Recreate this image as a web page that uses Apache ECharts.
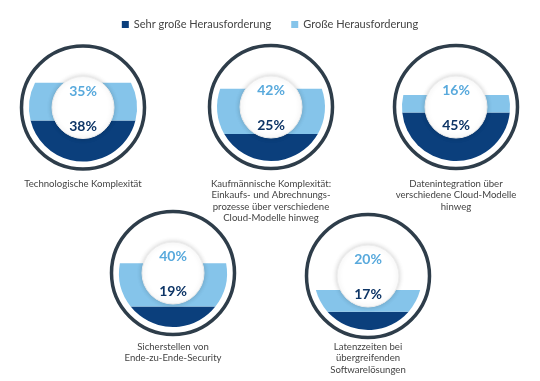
<!DOCTYPE html>
<html><head><meta charset="utf-8">
<script src="https://cdn.jsdelivr.net/npm/echarts@6/dist/echarts.min.js"></script>
<style>html,body{margin:0;padding:0;background:#fff}#c{width:540px;height:381px}</style>
</head><body><div id="c"></div>
<script>
// ---- data ----
const categories = [
  'Technologische Komplexität',
  'Kaufmännische Komplexität:\nEinkaufs- und Abrechnungs-\nprozesse über verschiedene\nCloud-Modelle hinweg',
  'Datenintegration über\nverschiedene Cloud-Modelle\nhinweg',
  'Sicherstellen von\nEnde-zu-Ende-Security',
  'Latenzzeiten bei\nübergreifenden\nSoftwarelösungen'
];
const seriesNames = ['Sehr große Herausforderung', 'Große Herausforderung'];
const sehrGross = [38, 25, 45, 19, 17];
const gross = [35, 42, 16, 40, 20];

// ---- layout & style ----
const layout = [
  { cx: 83,  cy: 107.5, labelTop: 178 },
  { cx: 271, cy: 107,   labelTop: 178 },
  { cx: 456, cy: 107,   labelTop: 178 },
  { cx: 173, cy: 273,   labelTop: 341 },
  { cx: 368, cy: 276,   labelTop: 341 }
];
const FILL_R = 54, RING_GAP = 7.5, INNER_R = 31;
const DARK = '#0b3f7c', LIGHT = '#85c4ea', RING = '#2e3d4a';
const DARK_TXT = '#0e3566', LIGHT_TXT = '#58a9dc';
const FONT = 'Lato, "Open Sans", sans-serif';

function geom(api) {
  const p0 = api.coord([0, 0]), p100 = api.coord([0, 100]);
  return { cx: p0[0], cy: (p0[1] + p100[1]) / 2, r: (p0[1] - p100[1]) / 2 };
}
function halfW(g, y) { const d = y - g.cy; return Math.sqrt(Math.max(0, g.r * g.r - d * d)); }

const grids = [], xAxes = [], yAxes = [], series = [];
layout.forEach((L, i) => {
  grids.push({ left: L.cx - FILL_R, top: L.cy - FILL_R, width: 2 * FILL_R, height: 2 * FILL_R });
  xAxes.push({
    type: 'category', gridIndex: i, data: [categories[i]],
    axisLine: { show: false }, axisTick: { show: false }, splitLine: { show: false },
    axisLabel: { margin: L.labelTop - (L.cy + FILL_R), color: '#444', fontSize: 9.6, lineHeight: 11.5, fontFamily: FONT, interval: 0 }
  });
  yAxes.push({ type: 'value', gridIndex: i, min: 0, max: 100, show: false });

  // outer ring
  series.push({
    type: 'custom', xAxisIndex: i, yAxisIndex: i, silent: true, clip: false, z: 1,
    data: [[0, 0]],
    renderItem(params, api) {
      const g = geom(api);
      return { type: 'circle', shape: { cx: g.cx, cy: g.cy, r: g.r + RING_GAP },
        style: { fill: 'none', stroke: RING, lineWidth: 3.5 } };
    }
  });
  // dark fill (Sehr große Herausforderung)
  series.push({
    name: seriesNames[0], type: 'custom', xAxisIndex: i, yAxisIndex: i, silent: true, clip: false, z: 2,
    itemStyle: { color: DARK },
    data: [[0, sehrGross[i]]],
    renderItem(params, api) {
      const g = geom(api);
      const y1 = api.coord([0, api.value(1)])[1];
      const w = halfW(g, y1);
      const large = y1 < g.cy ? 1 : 0;
      const d = `M${g.cx - w} ${y1} L${g.cx + w} ${y1} A${g.r} ${g.r} 0 ${large} 1 ${g.cx - w} ${y1} Z`;
      return { type: 'path', shape: { pathData: d }, style: { fill: DARK } };
    }
  });
  // light fill band (Große Herausforderung)
  series.push({
    name: seriesNames[1], type: 'custom', xAxisIndex: i, yAxisIndex: i, silent: true, clip: false, z: 2,
    itemStyle: { color: LIGHT },
    data: [[0, sehrGross[i], gross[i]]],
    renderItem(params, api) {
      const g = geom(api);
      const y1 = api.coord([0, api.value(1)])[1];
      const y2 = api.coord([0, api.value(1) + api.value(2)])[1];
      const w1 = halfW(g, y1), w2 = halfW(g, y2);
      const d = `M${g.cx - w2} ${y2} L${g.cx + w2} ${y2} A${g.r} ${g.r} 0 0 1 ${g.cx + w1} ${y1} ` +
                `L${g.cx - w1} ${y1} A${g.r} ${g.r} 0 0 1 ${g.cx - w2} ${y2} Z`;
      return { type: 'path', shape: { pathData: d }, style: { fill: LIGHT } };
    }
  });
  // inner white disc with the values
  series.push({
    type: 'custom', xAxisIndex: i, yAxisIndex: i, silent: true, clip: false, z: 3,
    data: [[0, sehrGross[i], gross[i]]],
    renderItem(params, api) {
      const g = geom(api);
      return { type: 'group', children: [
        { type: 'circle', shape: { cx: g.cx, cy: g.cy, r: INNER_R },
          style: { fill: '#fff', stroke: '#ececec', lineWidth: 1, shadowBlur: 5, shadowColor: 'rgba(0,0,0,0.18)' } },
        { type: 'text', style: { text: api.value(2) + '%', x: g.cx, y: g.cy - 16.5, align: 'center', verticalAlign: 'middle',
          fill: LIGHT_TXT, fontSize: 14, fontWeight: 700, fontFamily: FONT } },
        { type: 'text', style: { text: api.value(1) + '%', x: g.cx, y: g.cy + 18.5, align: 'center', verticalAlign: 'middle',
          fill: DARK_TXT, fontSize: 14, fontWeight: 700, fontFamily: FONT } }
      ] };
    }
  });
});

const chart = echarts.init(document.getElementById('c'), null, { renderer: 'canvas' });
chart.setOption({
  animation: false,
  backgroundColor: '#fff',
  legend: {
    data: seriesNames, top: 14, left: 'center', icon: 'rect', itemWidth: 7, itemHeight: 7, itemGap: 20,
    textStyle: { color: '#444', fontSize: 11, fontFamily: FONT }
  },
  grid: grids, xAxis: xAxes, yAxis: yAxes, series: series
});
</script>
</body></html>
